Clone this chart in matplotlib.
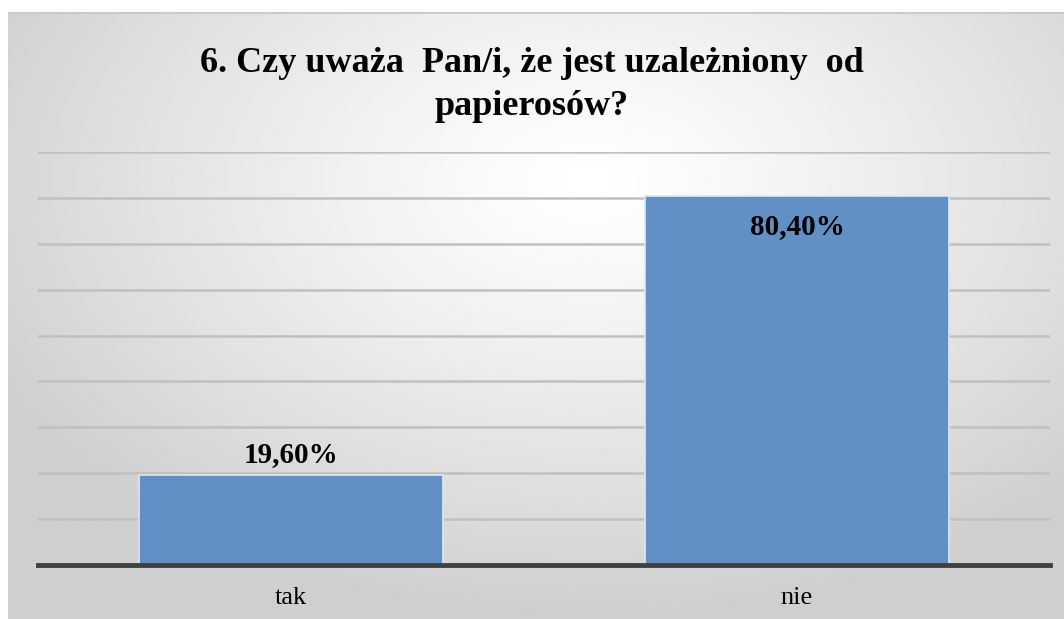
import matplotlib
matplotlib.use("Agg")
import matplotlib.pyplot as plt
import numpy as np

categories = ["tak", "nie"]
values = [19.6, 80.4]
value_labels = ["19,60%", "80,40%"]
title = "6. Czy uważa  Pan/i, że jest uzależniony  od\npapierosów?"

plt.rcParams['font.family'] = ['Liberation Serif', 'DejaVu Serif']

fig = plt.figure(figsize=(10.64, 6.19), dpi=100)
fig.patch.set_facecolor('white')

# gradient background (chart area, leaving a thin white margin top/left)
bg = fig.add_axes([8 / 1064, 0, 1 - 8 / 1064, 1 - 12 / 619])
bg.set_axis_off()
yy, xx = np.mgrid[0:1:300j, 0:1:500j]
r = np.sqrt(((xx - 0.55) / 0.8) ** 2 + ((yy - 0.72) / 0.9) ** 2)
shade = 1.0 - 0.19 * np.clip(r / 0.8, 0, 1) ** 1.2
bg.imshow(shade, cmap='gray', vmin=0, vmax=1, aspect='auto', extent=[0, 1, 0, 1],
          origin='lower', interpolation='bilinear')
bg.plot([0, 1], [1, 1], color='#c8c8c8', lw=2, transform=bg.transAxes)

# plot area
left, right = 38 / 1064, 1050 / 1064
bottom, top = 1 - 565 / 619, 1 - 152 / 619
ax = fig.add_axes([left, bottom, right - left, top - bottom])
ax.set_facecolor('none')
x = np.arange(len(categories))
bars = ax.bar(x, values, width=0.6, color='#6290c6', edgecolor='#dce8f5',
              linewidth=1.2, zorder=3)
ax.set_xlim(-0.5, 1.5)
ax.set_ylim(0, 90)
ax.set_yticks(np.arange(10, 91, 10))
ax.yaxis.grid(True, color='#c0c0c0', lw=1.8, zorder=0)
ax.tick_params(left=False, labelleft=False, bottom=False)
ax.set_xticks(x)
ax.set_xticklabels(categories, fontsize=19)
ax.tick_params(axis='x', pad=12)
for s in ['left', 'right', 'top']:
    ax.spines[s].set_visible(False)
ax.spines['bottom'].set_color('#404040')
ax.spines['bottom'].set_linewidth(3.5)
ax.spines['bottom'].set_zorder(4)

# data labels
ax.text(x[0], values[0] + 1.5, value_labels[0], ha='center', va='bottom',
        fontsize=21, fontweight='bold', zorder=5)
ax.text(x[1], values[1] - 3.8, value_labels[1], ha='center', va='top',
        fontsize=21, fontweight='bold', zorder=5)

fig.text(0.5, 1 - 85 / 619, title, ha='center', va='center', fontsize=26,
         fontweight='bold', linespacing=1.38)

fig.savefig('out.png', dpi=100)
